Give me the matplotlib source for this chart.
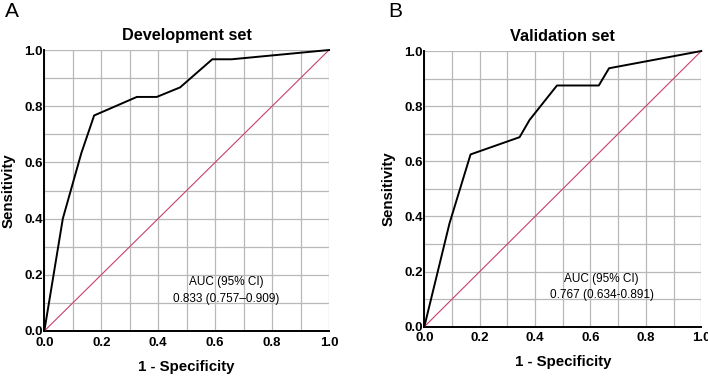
import matplotlib
matplotlib.use("Agg")
import matplotlib.pyplot as plt
import numpy as np

plt.rcParams['font.family'] = ['Liberation Sans', 'DejaVu Sans']

dev_fpr = [0.0, 0.065, 0.13, 0.175, 0.325, 0.395, 0.477, 0.59, 0.658, 1.0]
dev_tpr = [0.0, 0.40, 0.633, 0.767, 0.833, 0.833, 0.867, 0.967, 0.967, 1.0]
val_fpr = [0.0, 0.091, 0.167, 0.344, 0.38, 0.479, 0.63, 0.667, 1.0]
val_tpr = [0.0, 0.375, 0.625, 0.6875, 0.75, 0.875, 0.875, 0.9375, 1.0]

titles = ["Development set", "Validation set"]
panel_labels = ["A", "B"]
auc_texts = ["AUC (95% CI)\n0.833 (0.757\u20130.909)", "AUC (95% CI)\n0.767 (0.634-0.891)"]
tick_vals = [0.0, 0.2, 0.4, 0.6, 0.8, 1.0]
tick_labels = ["0.0", "0.2", "0.4", "0.6", "0.8", "1.0"]

fig = plt.figure(figsize=(7.08, 3.76), dpi=100)
axA = fig.add_axes([0.0626, 0.1197, 0.4021, 0.7473])
axB = fig.add_axes([0.5993, 0.1310, 0.3912, 0.7333])

panels = [(axA, dev_fpr, dev_tpr), (axB, val_fpr, val_tpr)]
for i, (ax, fx, ty) in enumerate(panels):
    ax.set_xlim(0, 1)
    ax.set_ylim(0, 1)
    ax.set_xticks(tick_vals)
    ax.set_yticks(tick_vals)
    ax.set_xticks(np.arange(0.1, 1.0, 0.2), minor=True)
    ax.set_yticks(np.arange(0.1, 1.0, 0.2), minor=True)
    ax.grid(True, which='both', color='#b8b8b8', linewidth=0.9)
    ax.set_axisbelow(True)
    ax.set_xticklabels(tick_labels, fontsize=9.5, fontweight='bold')
    ax.set_yticklabels(tick_labels, fontsize=9.5, fontweight='bold')
    ax.tick_params(axis='x', which='both', length=0, pad=4)
    ax.tick_params(axis='y', which='both', length=0, pad=1)
    for s in ['top', 'right']:
        ax.spines[s].set_visible(False)
    for s in ['left', 'bottom']:
        ax.spines[s].set_color('black')
        ax.spines[s].set_linewidth(1.4)
    ax.plot([0, 1], [0, 1], color='#c8406a', linewidth=0.8, clip_on=False, zorder=3)
    ax.plot(fx, ty, color='black', linewidth=1.4, clip_on=False, zorder=4)
    ax.set_title(titles[i], fontsize=11.7, fontweight='bold', pad=7)
    ax.set_xlabel("1 - Specificity", fontsize=10.8, fontweight='bold', labelpad=8)
    ax.set_ylabel("Sensitivity", fontsize=10.8, fontweight='bold', labelpad=6)
    ax.text(0.64, 0.145, auc_texts[i], fontsize=8.5, ha='center', va='center',
            transform=ax.transAxes, linespacing=1.5)

fig.text(0.007, 0.995, panel_labels[0], fontsize=15, va='top', ha='left')
fig.text(0.549, 0.995, panel_labels[1], fontsize=15, va='top', ha='left')

fig.savefig("out.png", dpi=100)
